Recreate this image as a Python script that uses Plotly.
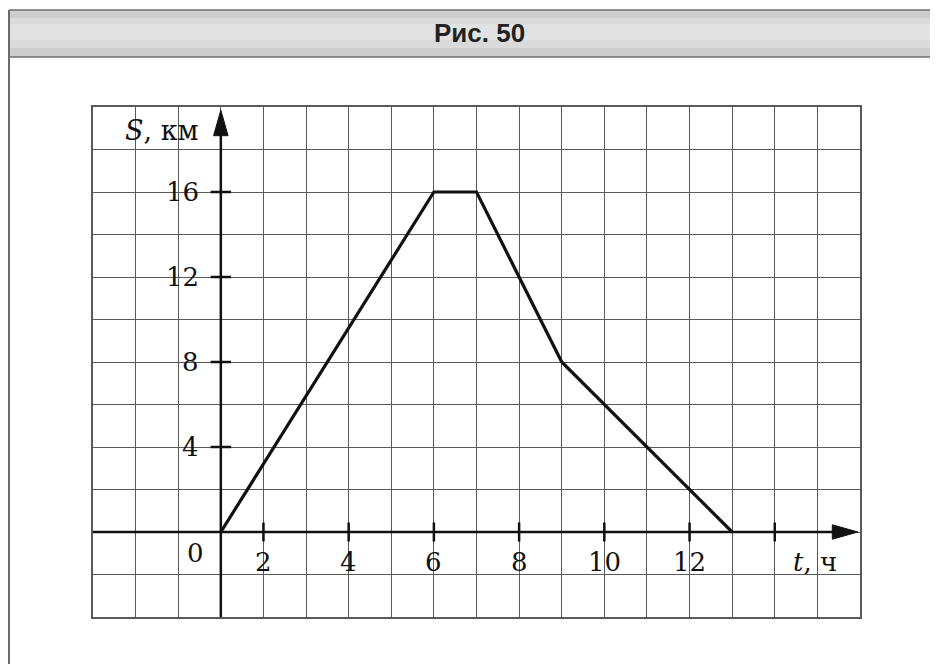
import plotly.graph_objects as go

# ---- data ----
t_values = [1, 6, 7, 9, 13]          # time, h (as read against the printed tick scale)
s_values = [0, 16, 16, 8, 0]         # distance, km
x_tick_values = [2, 4, 6, 8, 10, 12, 14]
x_tick_labels = ["2", "4", "6", "8", "10", "12", ""]
y_tick_values = [4, 8, 12, 16]
y_tick_labels = ["4", "8", "12", "16"]
origin_x = 1                         # printed position of the vertical axis
title_text = "Рис. 50"
x_axis_title = "<i>t</i>, ч"
y_axis_title = "<i>S</i>, км"

# page body has an 8px margin, so the figure is drawn 8px in from the window corner
OFF = 8
W, H = 938 - OFF, 664 - OFF
ML, MR, MT, MB = 93 - OFF, 78, 107 - OFF, 47
PW, PH = W - ML - MR, H - MT - MB

def px(xp):  # window pixel -> paper
    return (xp - OFF - ML) / PW

def py(yp):
    return (H - MB - (yp - OFF)) / PH

SERIF = "DejaVu Serif"
GRID = "#5a5a5a"

fig = go.Figure()
fig.add_trace(go.Scatter(x=t_values, y=s_values, mode="lines",
                         line=dict(color="#111", width=3.2), hoverinfo="skip",
                         showlegend=False))

shapes = []
# header band (faked gradient) and frame
shapes.append(dict(type="rect", xref="paper", yref="paper",
                   x0=px(9), x1=px(945), y0=py(57), y1=py(10),
                   fillcolor="#cdcdcd", line=dict(width=0), layer="below"))
shapes.append(dict(type="rect", xref="paper", yref="paper",
                   x0=px(9), x1=px(945), y0=py(48), y1=py(18),
                   fillcolor="#dadada", line=dict(width=0), layer="below"))
shapes.append(dict(type="rect", xref="paper", yref="paper",
                   x0=px(9), x1=px(945), y0=py(40), y1=py(24),
                   fillcolor="#e2e2e2", line=dict(width=0), layer="below"))
shapes.append(dict(type="line", xref="paper", yref="paper",
                   x0=px(9), x1=px(945), y0=py(10), y1=py(10),
                   line=dict(color="#6e6e6e", width=1.5)))
shapes.append(dict(type="line", xref="paper", yref="paper",
                   x0=px(9), x1=px(945), y0=py(57), y1=py(57),
                   line=dict(color="#6e6e6e", width=1.5)))
shapes.append(dict(type="line", xref="paper", yref="paper",
                   x0=px(9), x1=px(9), y0=py(10), y1=py(670),
                   line=dict(color="#6a6a6a", width=2)))
# axes
shapes.append(dict(type="line", xref="x", yref="y", x0=origin_x, x1=origin_x,
                   y0=-4, y1=19.0, line=dict(color="#111", width=2.5)))
shapes.append(dict(type="line", xref="x", yref="y", x0=-2, x1=15.5,
                   y0=0, y1=0, line=dict(color="#111", width=2.5)))
# arrow heads
shapes.append(dict(type="path", xref="x", yref="y",
                   path=f"M {origin_x} 19.85 L {origin_x-0.17} 18.65 L {origin_x+0.17} 18.65 Z",
                   fillcolor="#111", line=dict(color="#111", width=1)))
shapes.append(dict(type="path", xref="x", yref="y",
                   path="M 15.95 0 L 15.35 0.34 L 15.35 -0.34 Z",
                   fillcolor="#111", line=dict(color="#111", width=1)))
# tick marks
for xv in x_tick_values:
    shapes.append(dict(type="line", xref="x", yref="y", x0=xv, x1=xv,
                       y0=-0.45, y1=0.45, line=dict(color="#111", width=2.5)))
for yv in y_tick_values:
    shapes.append(dict(type="line", xref="x", yref="y", x0=origin_x - 0.24,
                       x1=origin_x + 0.24, y0=yv, y1=yv,
                       line=dict(color="#111", width=2.5)))

annotations = []
annotations.append(dict(text=f"<b>{title_text}</b>", xref="paper", yref="paper",
                        x=px(479), y=py(33), showarrow=False,
                        xanchor="center", yanchor="middle",
                        font=dict(family="Liberation Sans Narrow, Arial Narrow, Liberation Sans",
                                  size=26, color="#222")))
for xv, lab in zip(x_tick_values, x_tick_labels):
    if lab:
        annotations.append(dict(text=lab, x=xv, y=0, xref="x", yref="y",
                                showarrow=False, yshift=-30, xanchor="center",
                                yanchor="middle",
                                font=dict(family=SERIF, size=26, color="#111")))
for yv, lab in zip(y_tick_values, y_tick_labels):
    annotations.append(dict(text=lab, x=origin_x, y=yv, xref="x", yref="y",
                            showarrow=False, xshift=-20, xanchor="right",
                            yanchor="middle",
                            font=dict(family=SERIF, size=26, color="#111")))
annotations.append(dict(text="0", x=origin_x, y=0, xref="x", yref="y",
                        showarrow=False, xshift=-25, yshift=-21,
                        xanchor="center", yanchor="middle",
                        font=dict(family=SERIF, size=26, color="#111")))
annotations.append(dict(text=x_axis_title, x=14.95, y=0, xref="x", yref="y",
                        showarrow=False, yshift=-30, xanchor="center",
                        yanchor="middle",
                        font=dict(family=SERIF, size=26, color="#111")))
annotations.append(dict(text=y_axis_title, x=origin_x, y=18.9, xref="x", yref="y",
                        showarrow=False, xshift=-20, xanchor="right",
                        yanchor="middle",
                        font=dict(family=SERIF, size=27, color="#111")))

fig.update_layout(
    width=W, height=H,
    margin=dict(l=ML, r=MR, t=MT, b=MB, pad=0),
    paper_bgcolor="#ffffff", plot_bgcolor="#ffffff",
    shapes=shapes, annotations=annotations, showlegend=False,
    xaxis=dict(range=[-2, 16], dtick=1, tick0=0, showgrid=True, gridcolor=GRID,
               gridwidth=1.4, zeroline=False, showticklabels=False, ticks="",
               showline=True, mirror=True, linecolor=GRID, linewidth=1.6,
               fixedrange=True),
    yaxis=dict(range=[-4, 20], dtick=2, tick0=0, showgrid=True, gridcolor=GRID,
               gridwidth=1.4, zeroline=False, showticklabels=False, ticks="",
               showline=True, mirror=True, linecolor=GRID, linewidth=1.6,
               fixedrange=True),
)

fig.write_html("out.html")
